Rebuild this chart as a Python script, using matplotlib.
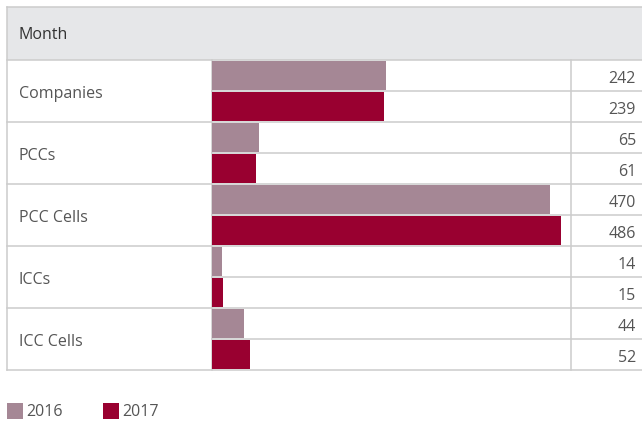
import matplotlib.pyplot as plt
from matplotlib.patches import Rectangle
import matplotlib.transforms as mtransforms

plt.rcParams['font.family'] = ['Open Sans', 'DejaVu Sans']

categories = ['Companies', 'PCCs', 'PCC Cells', 'ICCs', 'ICC Cells']
values_2016 = [242, 65, 470, 14, 44]
values_2017 = [239, 61, 486, 15, 52]
years = ['2016', '2017']
header = 'Month'

c2016 = '#a58795'
c2017 = '#990030'
grid_c = '#cccccc'
text_c = '#555555'
fs = 11.5

W, H = 642, 423
fig = plt.figure(figsize=(W / 100, H / 100), dpi=100)

# background axes in pixel coordinates for the table frame
bg = fig.add_axes([0, 0, 1, 1])
bg.set_xlim(0, W)
bg.set_ylim(H, 0)
bg.axis('off')

left, right = 7, 645
top, head_bot = 7, 60
col1, col2 = 212, 571
row_h = 62
n = len(categories)
bottom = head_bot + n * row_h

bg.add_patch(Rectangle((left, top), right - left, head_bot - top, facecolor='#e6e7e9',
                       edgecolor='none', zorder=0))
bg.text(left + 12, (top + head_bot) / 2 + 1.5, header, ha='left', va='center', fontsize=fs,
        color='#333333')

lw = 1.1
bg.plot([left, right], [top, top], color=grid_c, lw=lw)
bg.plot([left, left], [top, bottom], color=grid_c, lw=lw)
for i in range(n + 1):
    y = head_bot + i * row_h
    bg.plot([left, right], [y, y], color=grid_c, lw=lw)
for i in range(n):
    y = head_bot + i * row_h + row_h / 2
    bg.plot([col1, right], [y, y], color=grid_c, lw=lw)
    bg.text(left + 12, y + 2.5, categories[i], ha='left', va='center',
            fontsize=fs, color=text_c)
bg.plot([col1, col1], [head_bot, bottom], color=grid_c, lw=lw)
bg.plot([col2, col2], [head_bot, bottom], color=grid_c, lw=lw)

# bar axes covering the bar column
ax = fig.add_axes([col1 / W, 1 - bottom / H, (col2 - col1) / W, (bottom - head_bot) / H])
ax.set_xlim(0, 500)
ax.set_ylim(2 * n, 0)
ax.axis('off')
ax.patch.set_alpha(0)

pos16 = [2 * i + 0.5 for i in range(n)]
pos17 = [2 * i + 1.5 for i in range(n)]
ax.barh(pos16, values_2016, height=0.94, left=0.6, color=c2016, zorder=3)
ax.barh(pos17, values_2017, height=0.94, left=0.6, color=c2017, zorder=3)

trans = mtransforms.blended_transform_factory(fig.transFigure, ax.transData)
for p, v in zip(pos16 + pos17, values_2016 + values_2017):
    ax.text(636 / W, p + 0.1, str(v), transform=trans, ha='right', va='center',
            fontsize=fs, color=text_c, clip_on=False)

# legend
for x0, yr, c in [(7, years[0], c2016), (103, years[1], c2017)]:
    bg.add_patch(Rectangle((x0, 403), 16, 16, facecolor=c, edgecolor='none'))
    bg.text(x0 + 19, 412, yr, ha='left', va='center', fontsize=fs, color=text_c)

fig.savefig('out.png', dpi=100)
